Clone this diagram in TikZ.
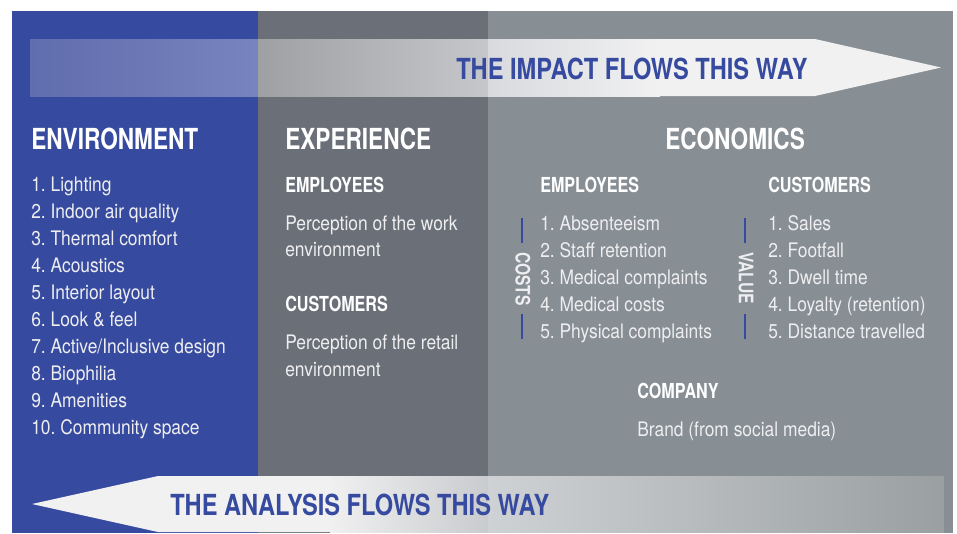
\documentclass[tikz,border=0pt]{standalone}
\usepackage{fontspec}
\setmainfont{TeX Gyre Heros}[FakeStretch=0.87]
\newfontfamily\headfont{TeX Gyre Heros}[FakeStretch=0.78]
\newfontfamily\flowfont{TeX Gyre Heros}[FakeStretch=0.815]

\definecolor{panelblue}{RGB}{54,74,159}
\definecolor{paneldark}{RGB}{107,111,119}
\definecolor{panellight}{RGB}{135,142,148}
\definecolor{bodytext}{RGB}{238,238,240}
\definecolor{flowink}{RGB}{54,74,159}
\definecolor{flowwhite}{RGB}{241,241,242}
% tints of the impact arrow over each panel
\definecolor{impA}{RGB}{96,109,174}
\definecolor{impB}{RGB}{120,132,190}
\definecolor{impC}{RGB}{158,160,164}
\definecolor{impD}{RGB}{197,199,202}
\definecolor{impE}{RGB}{216,218,221}
% tints of the analysis arrow over each panel
\definecolor{anaA}{RGB}{240,240,241}
\definecolor{anaB}{RGB}{201,203,206}
\definecolor{anaC}{RGB}{207,210,213}
\definecolor{anaD}{RGB}{154,159,162}

\begin{document}
\begin{tikzpicture}[x=0.75pt,y=-0.75pt,
  title/.style={anchor=base west, inner sep=0pt, text=white,
    font=\headfont\bfseries\fontsize{21.75}{26}\selectfont},
  subhead/.style={anchor=base west, inner sep=0pt, text=white,
    font=\headfont\bfseries\fontsize{15.5}{18}\selectfont},
  item/.style={anchor=base west, inner sep=0pt, text=bodytext,
    font=\fontsize{15}{18}\selectfont},
  flowtext/.style={anchor=base west, inner sep=0pt, text=flowink,
    font=\flowfont\bfseries\fontsize{21.75}{26}\selectfont},
  sidetag/.style={rotate=-90, inner sep=0pt, text=bodytext,
    font=\headfont\bfseries\fontsize{15}{18}\selectfont},
  tagline/.style={draw=panelblue, line width=1.5pt}
]
\useasboundingbox (0,0) rectangle (957,533);

% three column panels
\fill[panelblue]  (12,11)  rectangle (258,533);
\fill[paneldark]  (258,11) rectangle (488,533);
\fill[panellight] (488,11) rectangle (953,533);

% impact arrow, pointing right
\shade[left color=impA, right color=impB] (30,39) rectangle (258,96);
\shade[left color=impC, right color=impD] (258,39) rectangle (488,96);
\shade[left color=impE, right color=flowwhite] (488,39) rectangle (660,96);
\fill[flowwhite] (660,39) -- (815,39) -- (941,67.5) -- (815,96) -- (660,96) -- cycle;
\node[flowtext] (impact) at (456,79) {THE IMPACT FLOWS THIS WAY};

% analysis arrow, pointing left
\fill[flowwhite] (32,504) -- (158,476) -- (330,476) -- (330,532) -- (158,532) -- cycle;
\shade[left color=anaA, right color=anaB] (330,476) rectangle (488,532);
\shade[left color=anaC, right color=anaD] (488,476) rectangle (944,532);
\node[flowtext] (analysis) at (170,515) {THE ANALYSIS FLOWS THIS WAY};

% environment column
\node[title] (envtitle) at (31,149) {ENVIRONMENT};
\foreach \t [count=\i] in {Lighting,Indoor air quality,Thermal comfort,Acoustics,
    Interior layout,Look \& feel,Active/Inclusive design,Biophilia,Amenities,Community space}
  \node[item] (env\i) at (31,{191+27.1*(\i-1)}) {\i.\ \t};

% experience column
\node[title] (exptitle) at (285,149) {EXPERIENCE};
\node[subhead] (expemp) at (285,192) {EMPLOYEES};
\node[item] (expemp1) at (285,230) {Perception of the work};
\node[item] (expemp2) at (285,256.5) {environment};
\node[subhead] (expcus) at (285,311) {CUSTOMERS};
\node[item] (expcus1) at (285,349.5) {Perception of the retail};
\node[item] (expcus2) at (285,376) {environment};

% economics column
\node[title] (ecotitle) at (665,149) {ECONOMICS};
\node[subhead] (ecoemp) at (540,192) {EMPLOYEES};
\foreach \t [count=\i] in {Absenteeism,Staff retention,Medical complaints,
    Medical costs,Physical complaints}
  \node[item] (cost\i) at (540,{230+27*(\i-1)}) {\i.\ \t};
\node[subhead] (ecocus) at (768,192) {CUSTOMERS};
\foreach \t [count=\i] in {Sales,Footfall,Dwell time,Loyalty (retention),Distance travelled}
  \node[item] (value\i) at (768,{230+27*(\i-1)}) {\i.\ \t};
\node[subhead] (ecocom) at (637,398) {COMPANY};
\node[item] (ecocom1) at (637,436) {Brand (from social media)};

% side tags between the bracket strokes
\node[sidetag] (costs) at (523,279) {COSTS};
\coordinate (costtop) at (522,218);
\coordinate (costbot) at (522,339);
\draw[tagline] (costtop) -- (costtop |- 0,243);
\draw[tagline] (costbot) -- (costbot |- 0,314);

\node[sidetag] (value) at (746,278) {VALUE};
\coordinate (valtop) at (745,218);
\coordinate (valbot) at (745,339);
\draw[tagline] (valtop) -- (valtop |- 0,243);
\draw[tagline] (valbot) -- (valbot |- 0,314);
\end{tikzpicture}
\end{document}
